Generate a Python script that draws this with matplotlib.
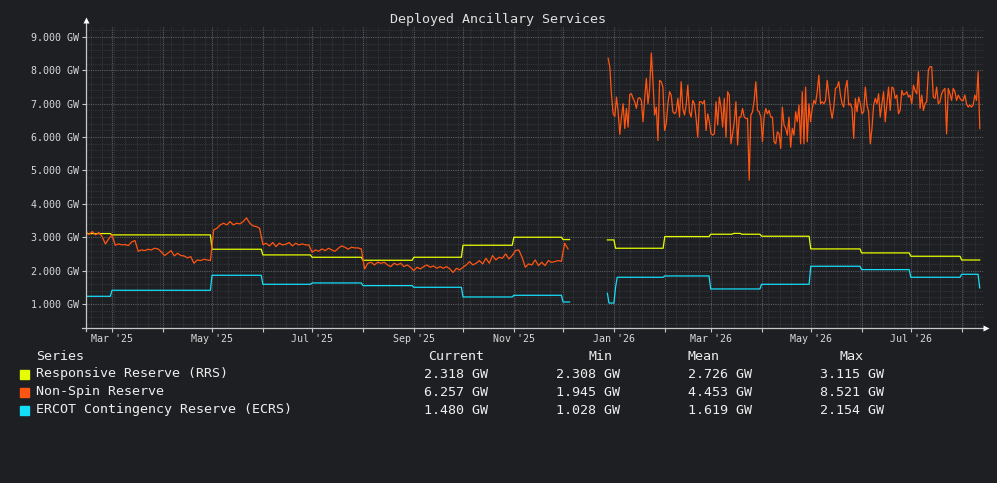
import matplotlib
matplotlib.use('Agg')
import matplotlib.pyplot as plt
import matplotlib.dates as mdates
from matplotlib.ticker import FuncFormatter, MultipleLocator
import numpy as np
import pandas as pd

# ---------------- data ----------------
title = "Deployed Ancillary Services"
series_names = ["Responsive Reserve (RRS)", "Non-Spin Reserve", "ERCOT Contingency Reserve (ECRS)"]
series_colors = ["#e6ff00", "#ff5512", "#14defa"]
stat_headers = ["Current", "Min", "Mean", "Max"]
stat_current = ["2.318 GW", "6.257 GW", "1.480 GW"]
stat_min = ["2.308 GW", "1.945 GW", "1.028 GW"]
stat_mean = ["2.726 GW", "4.453 GW", "1.619 GW"]
stat_max = ["3.115 GW", "8.521 GW", "2.154 GW"]

# Responsive Reserve (step changes)
rrs_a_dates = ["2025-02-13", "2025-03-01", "2025-05-01", "2025-06-01", "2025-07-01",
               "2025-08-01", "2025-09-01", "2025-10-01", "2025-11-01", "2025-12-01"]
rrs_a_vals = [3.11, 3.07, 2.64, 2.47, 2.40, 2.31, 2.40, 2.76, 3.00, 2.93]
rrs_a_end = "2025-12-05"
rrs_b_dates = ["2025-12-28", "2026-01-02", "2026-02-01", "2026-03-01", "2026-03-15",
               "2026-03-20", "2026-04-01", "2026-05-01", "2026-06-01", "2026-07-01", "2026-08-01"]
rrs_b_vals = [2.92, 2.67, 3.02, 3.09, 3.115, 3.09, 3.03, 2.65, 2.53, 2.43, 2.318]
rrs_b_end = "2026-08-12"

# ECRS (step changes)
ecrs_a_dates = ["2025-02-13", "2025-03-01", "2025-05-01", "2025-06-01", "2025-07-01",
                "2025-08-01", "2025-09-01", "2025-10-01", "2025-11-01", "2025-12-01"]
ecrs_a_vals = [1.23, 1.41, 1.86, 1.59, 1.63, 1.55, 1.50, 1.21, 1.26, 1.06]
ecrs_a_end = "2025-12-05"
ecrs_b_dates = ["2025-12-28", "2025-12-29", "2026-01-02", "2026-01-03", "2026-02-01",
                "2026-03-01", "2026-04-01", "2026-05-01", "2026-06-01", "2026-07-01",
                "2026-08-01", "2026-08-12"]
ecrs_b_vals = [1.32, 1.028, 1.50, 1.80, 1.84, 1.45, 1.59, 2.13, 2.03, 1.80, 1.89, 1.48]
ecrs_b_end = "2026-08-12"

# Non-Spin Reserve, 2025 part (every 2 days from 2025-02-13)
nsrs_a_start = "2025-02-13"
nsrs_a_vals = [
    3.17, 3.08, 3.17, 3.07, 3.14, 3.02, 2.80, 2.95, 3.07, 2.76,
    2.80, 2.77, 2.78, 2.75, 2.86, 2.90, 2.58, 2.62, 2.60, 2.64,
    2.62, 2.67, 2.65, 2.57, 2.45, 2.52, 2.60, 2.44, 2.52, 2.45,
    2.44, 2.38, 2.42, 2.22, 2.32, 2.30, 2.34, 2.32, 2.30, 3.22,
    3.27, 3.37, 3.42, 3.37, 3.47, 3.37, 3.42, 3.40, 3.47, 3.58,
    3.42, 3.34, 3.32, 3.27, 2.78, 2.82, 2.74, 2.84, 2.72, 2.82,
    2.77, 2.79, 2.84, 2.74, 2.82, 2.77, 2.80, 2.77, 2.77, 2.55,
    2.62, 2.58, 2.65, 2.60, 2.67, 2.62, 2.58, 2.67, 2.74, 2.70,
    2.64, 2.70, 2.68, 2.68, 2.65, 2.05, 2.22, 2.25, 2.17, 2.25,
    2.22, 2.25, 2.17, 2.12, 2.22, 2.17, 2.22, 2.12, 2.17, 2.10,
    2.00, 2.10, 2.05, 2.12, 2.17, 2.10, 2.14, 2.07, 2.12, 2.07,
    2.12, 2.05, 1.945, 2.07, 2.02, 2.10, 2.17, 2.27, 2.17, 2.22,
    2.30, 2.20, 2.37, 2.22, 2.45, 2.32, 2.40, 2.37, 2.50, 2.35,
    2.45, 2.60, 2.62, 2.40, 2.10, 2.20, 2.17, 2.32, 2.15, 2.25,
    2.15, 2.30, 2.25, 2.27, 2.30, 2.28, 2.82, 2.65,
]

# Non-Spin Reserve, 2026 part (about daily, 2025-12-28 to 2026-08-12)
nsrs_b_start = "2025-12-28 12:00"
nsrs_b_end = "2026-08-12 01:00"
nsrs_b_vals = [
    8.36, 8.10, 7.26, 6.70, 6.62, 7.20, 6.76, 6.08, 6.60, 7.00,
    6.26, 6.86, 6.30, 7.28, 7.30, 7.16, 7.06, 6.86, 7.16, 7.18,
    7.10, 6.46, 7.16, 7.76, 7.00, 7.46, 8.521, 7.66, 6.66, 6.90,
    5.90, 7.70, 7.66, 7.50, 6.20, 6.40, 7.00, 7.36, 7.26, 6.76,
    6.70, 6.76, 7.16, 6.60, 7.66, 6.86, 6.66, 6.96, 7.56, 6.76,
    6.60, 7.10, 7.00, 6.56, 6.00, 7.06, 7.06, 7.00, 7.10, 6.20,
    6.70, 6.46, 6.10, 6.06, 6.10, 7.06, 6.36, 7.20, 6.90, 6.30,
    7.16, 6.00, 7.36,
    7.26, 5.80, 6.10, 6.46, 7.06, 5.76, 6.60, 6.60, 6.86, 6.60,
    6.56, 6.56, 4.71, 6.66, 6.76, 7.10, 7.66, 6.80, 6.76, 6.60,
    5.86, 6.60, 6.86, 6.70, 6.80, 6.60, 6.60, 5.86, 5.80, 6.16,
    6.10, 5.66, 6.90, 6.36, 6.26, 6.06, 6.60, 5.70, 6.26, 6.06,
    6.76, 6.46, 6.96, 5.80, 7.36, 5.80, 7.50, 5.86, 7.00, 6.46,
    6.86, 7.10, 7.00, 7.36, 7.86, 7.00, 7.06, 7.00, 7.10, 7.70,
    7.26, 6.86, 6.56, 6.90, 7.46, 7.50, 7.66, 7.26, 7.00, 6.90,
    7.46, 7.70, 6.96, 7.00, 6.86, 5.96,
    7.16, 6.76, 7.20, 7.00, 6.70, 6.76, 7.50, 6.96, 6.76, 5.80,
    6.26, 6.96, 7.16, 7.00, 7.30, 6.60, 7.00, 7.36, 6.46, 7.00,
    7.50, 6.80, 7.50, 7.46, 7.16, 7.26, 6.70, 6.80, 7.40, 7.26,
    7.30, 7.36, 7.20, 7.26, 7.00, 7.56, 7.40, 7.30, 7.96, 6.86,
    7.26, 6.80, 7.00, 7.06, 8.01, 8.11, 8.11, 7.20, 7.16, 7.50,
    7.00, 7.06, 7.30, 7.40, 7.46, 6.10, 7.46, 7.30, 7.10, 7.46,
    7.36, 7.10, 7.26, 7.16, 7.10, 7.10, 7.26, 7.00, 6.90, 6.96,
    6.90, 6.96, 7.26, 7.10, 7.96, 6.257,
]

x_start = "2025-02-13 04:00"
x_end = "2026-08-14 00:00"
y_min, y_max = 0.28, 9.30

# ---------------- helpers ----------------
def step_series(dates, vals, end):
    s = pd.Series(vals, index=pd.to_datetime(dates))
    idx = pd.date_range(pd.to_datetime(dates[0]), pd.to_datetime(end), freq="D")
    idx = idx.union(s.index)
    return s.reindex(idx).ffill()

BG = "#1e1f22"
AXC = "#c8c8c8"
TXT = "#d8d8d8"
MONO = ["DejaVu Sans Mono"]

fig = plt.figure(figsize=(9.97, 4.83), dpi=100, facecolor=BG)
W, H = 997.0, 483.0
ax_l, ax_r, ax_t, ax_b = 86, 983, 27, 328
ax = fig.add_axes([ax_l / W, 1 - ax_b / H, (ax_r - ax_l) / W, (ax_b - ax_t) / H])
ax.set_facecolor(BG)

# series
rrs_a = step_series(rrs_a_dates, rrs_a_vals, rrs_a_end)
rrs_b = step_series(rrs_b_dates, rrs_b_vals, rrs_b_end)
ecrs_a = step_series(ecrs_a_dates, ecrs_a_vals, ecrs_a_end)
ecrs_b = step_series(ecrs_b_dates, ecrs_b_vals, ecrs_b_end)
nsrs_a_idx = pd.date_range(nsrs_a_start, periods=len(nsrs_a_vals), freq="2D")
nsrs_b_idx = pd.date_range(nsrs_b_start, nsrs_b_end, periods=len(nsrs_b_vals))

lw = 0.9
ax.plot(rrs_a.index, rrs_a.values, color=series_colors[0], lw=lw, zorder=4)
ax.plot(rrs_b.index, rrs_b.values, color=series_colors[0], lw=lw, zorder=4)
ax.plot(nsrs_a_idx, nsrs_a_vals, color=series_colors[1], lw=lw, zorder=5)
ax.plot(nsrs_b_idx, nsrs_b_vals, color=series_colors[1], lw=lw, zorder=5)
ax.plot(ecrs_a.index, ecrs_a.values, color=series_colors[2], lw=lw, zorder=3)
ax.plot(ecrs_b.index, ecrs_b.values, color=series_colors[2], lw=lw, zorder=3)

ax.set_xlim(pd.to_datetime(x_start), pd.to_datetime(x_end))
ax.set_ylim(y_min, y_max)

# axes / ticks
for sp in ax.spines.values():
    sp.set_visible(False)

ax.yaxis.set_major_locator(MultipleLocator(1.0))
ax.yaxis.set_minor_locator(MultipleLocator(0.2))
ax.yaxis.set_major_formatter(FuncFormatter(lambda v, p: f"{v:.3f} GW"))
ax.xaxis.set_major_locator(mdates.MonthLocator())
ax.xaxis.set_minor_locator(mdates.WeekdayLocator(byweekday=mdates.SU))

def xfmt(x, pos):
    d = mdates.num2date(x)
    return d.strftime("%b '%y") if d.month % 2 == 1 else ""
ax.xaxis.set_major_formatter(FuncFormatter(xfmt))

ax.tick_params(axis="both", which="major", colors=AXC, labelcolor=TXT, length=3,
               width=0.8, labelsize=7.2, pad=2)
ax.tick_params(axis="both", which="minor", length=0)
ax.tick_params(axis="x", which="major", pad=1)
for lab in ax.get_xticklabels() + ax.get_yticklabels():
    lab.set_family(MONO)

ax.grid(which="minor", color="#35363b", lw=0.8, linestyle=(0, (1, 1)), zorder=0)
ax.grid(which="major", color="#5c5d62", lw=0.8, linestyle=(0, (1, 1)), zorder=1)
ax.set_axisbelow(True)

# axis lines with arrows
ax.plot([-0.004, 1.0], [0, 0], transform=ax.transAxes, color=AXC, lw=0.9,
        clip_on=False, zorder=6)
ax.plot([0, 0], [-0.01, 1.02], transform=ax.transAxes, color=AXC, lw=0.9,
        clip_on=False, zorder=6)
ax.plot([1.003], [0], transform=ax.transAxes, marker=">", ms=4.5, color="#ffffff",
        mec="none", clip_on=False, zorder=7)
ax.plot([0], [1.022], transform=ax.transAxes, marker="^", ms=4.5, color="#ffffff",
        mec="none", clip_on=False, zorder=7)

# title
fig.text(497.5 / W, 1 - 19 / H, title, ha="center", va="center", color="#e0e0e0",
         fontsize=9.6, family=MONO)

# legend table
def fy(py):
    return 1 - py / H

fs = 9.6
fig.text(36 / W, fy(356), "Series", ha="left", va="center", color="#eeeeee",
         fontsize=fs, family=MONO)
hdr_x = [428, 588, 688, 839]
for hx, h in zip(hdr_x, stat_headers):
    fig.text(hx / W, fy(356), h, ha="left", va="center", color="#eeeeee",
             fontsize=fs, family=MONO)
row_y = [374, 392, 410]
val_x = [424, 556, 688, 820]
for i, name in enumerate(series_names):
    y = row_y[i]
    fig.patches.append(plt.Rectangle((20 / W, fy(y + 4.5)), 9 / W, 9 / H,
                                     transform=fig.transFigure, color=series_colors[i],
                                     figure=fig))
    fig.text(36 / W, fy(y), name, ha="left", va="center", color="#eeeeee",
             fontsize=fs, family=MONO)
    for vx, col in zip(val_x, [stat_current, stat_min, stat_mean, stat_max]):
        fig.text(vx / W, fy(y), col[i], ha="left", va="center", color="#eeeeee",
                 fontsize=fs, family=MONO)

fig.savefig("out.png", dpi=100, facecolor=BG)
